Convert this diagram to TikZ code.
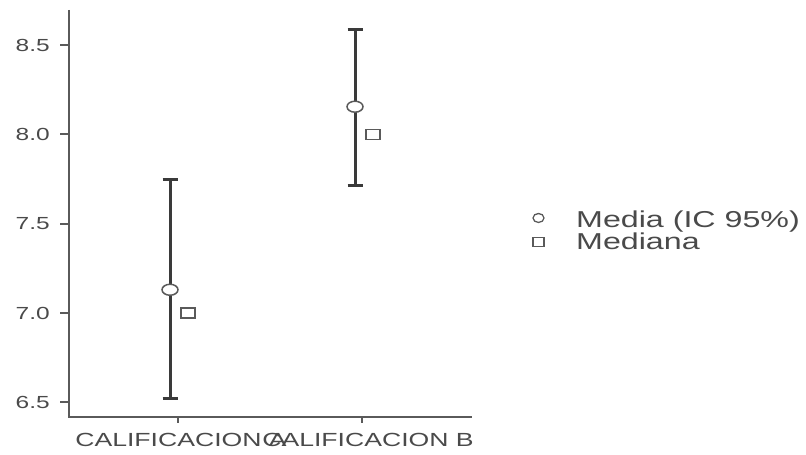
\documentclass[tikz,border=0pt]{standalone}
\usepackage{fontspec}
\setmainfont[FakeStretch=1.4]{Liberation Sans}
\definecolor{axisgray}{HTML}{5A5A5A}
\definecolor{bargray}{HTML}{3A3A3A}
\definecolor{textgray}{HTML}{4A4A4A}
\tikzset{
  ticklabel/.style={anchor=east,inner sep=0pt,text=textgray,font=\fontsize{17.5}{20}\selectfont},
  grouplabel/.style={anchor=base,inner sep=0pt,text=textgray,font=\fontsize{19}{22}\selectfont},
  legendlabel/.style={anchor=base west,inner sep=0pt,text=textgray,font=\fontsize{23}{26}\selectfont},
  errbar/.style={line width=3pt,bargray},
  meanmark/.style={fill=white,draw=axisgray,line width=1.5pt},
  medmark/.style={fill=white,draw=axisgray,line width=1.5pt}
}
\begin{document}
\begin{tikzpicture}[x=1pt,y=178.6pt]
\useasboundingbox (0,6.2105) rectangle (806,8.7525);
% Axes
\draw[axisgray,line width=2pt] (69,8.697) -- (69,6.4177) -- (472,6.4177);

% Y ticks and labels
\foreach \v [count=\i] in {6.5,7.0,7.5,8.0,8.5} {
  \draw[axisgray,line width=2pt] (60,\v) -- (69,\v);
  \node[ticklabel] (ytick\i) at (50,\v) {\v};
}

% X ticks and labels
\draw[axisgray,line width=2pt] (178,6.4177) -- (178,6.3841);
\draw[axisgray,line width=2pt] (362,6.4177) -- (362,6.3841);
\node[grouplabel] (labA) at (181,6.2497) {CALIFICACION A};
\node[grouplabel] (labB) at (368,6.2497) {CALIFICACION B};

% Error bars (mean, 95% CI) and medians
\foreach \x/\lo/\m/\hi/\md in {170/6.52/7.13/7.745/7.0, 355/7.715/8.155/8.59/8.0} {
  \pgfmathsetmacro\mx{\x+18}
  \draw[errbar] (\x-7.5,\lo) -- (\x+7.5,\lo);
  \draw[errbar] (\x-7.5,\hi) -- (\x+7.5,\hi);
  \draw[errbar] (\x,\lo) -- (\x,\hi);
  \draw[meanmark] (\x,\m) ellipse [x radius=8pt,y radius=5.5pt];
  \draw[medmark] (\mx,\md) ++(-7pt,-5pt) rectangle ++(14pt,10pt);
}

% Legend
\draw[axisgray,line width=1.3pt] (538.5,7.5319) ellipse [x radius=5.5pt,y radius=4.5pt];
\draw[axisgray,line width=1.3pt] (538.5,7.3975) ++(-5.5pt,-4.5pt) rectangle ++(11pt,9pt);
\node[legendlabel] (legMean) at (576,7.4759) {Media (IC 95\%)};
\node[legendlabel] (legMed) at (576,7.3527) {Mediana};

\end{tikzpicture}
\end{document}
